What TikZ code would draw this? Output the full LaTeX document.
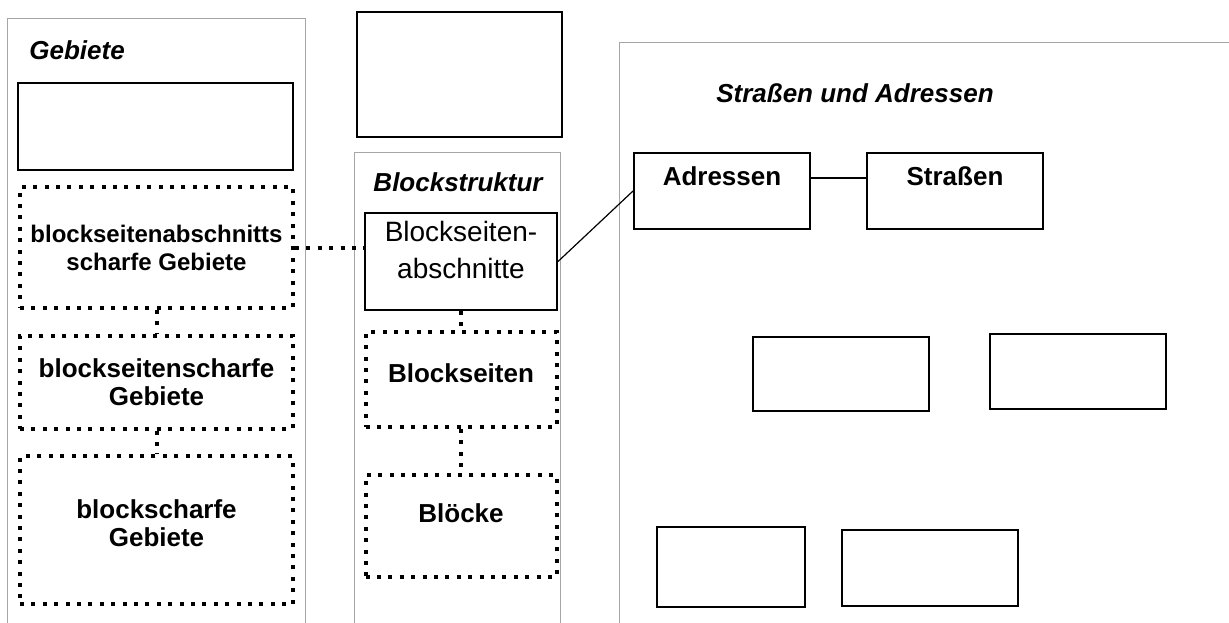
\documentclass[tikz,border=0pt]{standalone}
\usepackage{fontspec}
\setmainfont{Liberation Sans}
\usetikzlibrary{positioning}

\begin{document}
\begin{tikzpicture}[x=0.5pt, y=-0.5pt,
        panel/.style={draw=gray!70, line width=0.5pt},
        box/.style={rectangle, draw=black, line width=1pt,
                    minimum width=88pt, minimum height=38pt,
                    font=\fontsize{13}{15}\selectfont\bfseries},
        dotbox/.style={rectangle, draw=black, line width=2pt,
                       dash pattern=on 2pt off 3.7pt, align=center,
                       minimum width=136.5pt,
                       font=\fontsize{13}{14}\selectfont\bfseries},
        dotlink/.style={line width=2pt, dash pattern=on 2pt off 3.7pt},
        link/.style={line width=0.6pt},
        heading/.style={font=\fontsize{13}{15}\selectfont\bfseries\itshape, inner sep=0pt},
        inlabel/.style={anchor=north, align=center, inner sep=1pt}
    ]
        \path[use as bounding box, clip] (0,0) rectangle (1229,622);

        \draw[panel] (7,640) -- (7,18) -- (305,18) -- (305,640);
        \draw[panel] (354,640) -- (354,152) -- (560,152) -- (560,640);
        \draw[panel] (619,640) -- (619,42) -- (1240,42);

        \node[heading, anchor=west] (tgeb) at (29,50) {Gebiete};
        \node[box, minimum width=137.5pt, minimum height=43.5pt] (leer1) at (155.5,126.5) {};
        \node[dotbox, minimum height=60.5pt, font=\fontsize{12}{14}\selectfont\bfseries] (gbsa) at (156.5,247.5) {blockseitenabschnitts\\scharfe Gebiete};
        \node[dotbox, minimum height=46.5pt, below=11.8pt of gbsa] (gbs) {blockseitenscharfe\\Gebiete};
        \node[dotbox, minimum height=74pt, text depth=7pt, below=11.8pt of gbs] (gb) {blockscharfe\\Gebiete};

        \node[box, minimum width=102.5pt, minimum height=62.5pt] (leer2) at (459.5,74.5) {};
        \node[heading] (tblock) at (458,182) {Blockstruktur};
        \node[box, minimum width=96pt, minimum height=48.5pt,
              label={[inlabel, yshift=-3.5pt, font=\fontsize{14}{18.5}\selectfont]north:Blockseiten-\\abschnitte}] (bsab) at (461,261.5) {};
        \node[dotbox, minimum width=95.5pt, minimum height=47.5pt, text depth=6pt, below=9.5pt of bsab] (bs) {Blockseiten};
        \node[dotbox, minimum width=95.5pt, minimum height=51pt, text depth=13pt, below=22pt of bs] (bl) {Blöcke};

        \node[heading] (tstr) at (855,93) {Straßen und Adressen};
        \node[box, label={[inlabel, yshift=-6pt, font=\fontsize{13}{15}\selectfont\bfseries]north:Adressen}] (adr) at (722,191) {};
        \node[box, right=27.5pt of adr, label={[inlabel, yshift=-6pt, font=\fontsize{13}{15}\selectfont\bfseries]north:Straßen}] (str) {};

        \node[box, minimum height=37pt] (leer3) at (841,374) {};
        \node[box, minimum height=37.5pt] (leer4) at (1078,371.5) {};
        \node[box, minimum width=74pt, minimum height=40pt] (leer5) at (731,567) {};
        \node[box] (leer6) at (930,568) {};

        \draw[dotlink] (gbsa.south) -- (gbs.north);
        \draw[dotlink] (gbs.south) -- (gb.north);
        \draw[dotlink] (gbsa.east) -- (gbsa.east -| bsab.west);
        \draw[dotlink] (bsab.south) -- (bs.north);
        \draw[dotlink] (bs.south) -- (bl.north);
        \draw[link] ([yshift=6.5pt]adr.east) -- ([yshift=6.5pt]adr.east -| str.west);
        \draw[link] (bsab.east) -- (adr.west);
    \end{tikzpicture}
\end{document}
